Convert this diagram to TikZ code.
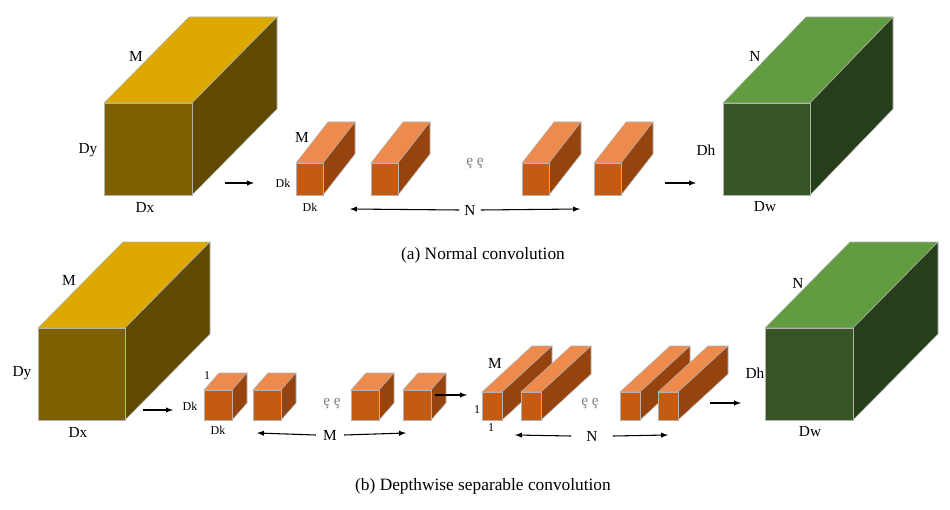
\documentclass[tikz,border=0pt]{standalone}
\usepackage{fontspec}
\setmainfont{Liberation Serif}
\begin{document}
\begin{tikzpicture}[x=0.75pt,y=-0.75pt,
 lbl/.style={inner sep=0pt,font=\fontsize{11.5}{13}\selectfont},
 sml/.style={inner sep=0pt,font=\fontsize{9}{10}\selectfont},
 captxt/.style={inner sep=0pt,font=\fontsize{13}{15}\selectfont},
 arr/.style={-latex,thick},
 edge/.style={draw=gray!60,line width=0.4pt}]
\useasboundingbox (0,0) rectangle (950,510);
\definecolor{ytop}{HTML}{DDA800}\definecolor{yfr}{HTML}{7F6000}\definecolor{ysd}{HTML}{5F4A00}
\definecolor{gtop}{HTML}{629C40}\definecolor{gfr}{HTML}{375425}\definecolor{gsd}{HTML}{263F1A}
\definecolor{otop}{HTML}{EE8B4C}\definecolor{ofr}{HTML}{C55A11}\definecolor{osd}{HTML}{97430E}
% #1 x1 #2 y1 #3 x2 #4 y2 #5 dx #6 dy #7 top #8 front #9 side
\newcommand\cub[9]{%
 \fill[#7,edge] (#1,#2) -- ++(#5,#6) -- ++(#3-#1,0) -- (#3,#2) -- cycle;
 \fill[#9,edge] (#3,#2) -- ++(#5,#6) -- ++(0,#4-#2) -- (#3,#4) -- cycle;
 \fill[#8,edge] (#1,#2) rectangle (#3,#4);}
% (a)
\cub{104}{103}{192}{195}{85}{-86}{ytop}{yfr}{ysd}
\cub{723}{103}{810}{195}{83}{-86}{gtop}{gfr}{gsd}
\foreach \x in {296,371,522,594}{\cub{\x}{163}{\x+27}{195}{32}{-41}{otop}{ofr}{osd}}
\node[lbl] (aM) at (136,56) {M};
\node[lbl] (aDy) at (88,150) {Dy};
\node[lbl] (aDx) at (145,207) {Dx};
\node[lbl] (aN) at (755,56) {N};
\node[lbl] (aDh) at (706,150) {Dh};
\node[lbl] (aDw) at (765,207) {Dw};
\node[lbl] (aM2) at (302,137) {M};
\node[sml] (aDk1) at (283,183) {Dk};
\node[sml] (aDk2) at (310,207) {Dk};
\node[lbl,text=gray] (adots) at (475,164) {\c{e} \c{e}};
\node[lbl] (aNN) at (470,210) {N};
\coordinate (aNl) at (350,209); \coordinate (aNr) at (580,209);
\draw[arr] (aNN.west) ++(-5,0) -- (aNl);
\draw[arr] (aNN.east) ++(5,0) -- (aNr);
\coordinate (a1s) at (225,183); \coordinate (a1e) at (254,183);
\coordinate (a2s) at (665,183); \coordinate (a2e) at (696,183);
\draw[arr] (a1s) -- (a1e); \draw[arr] (a2s) -- (a2e);
\node[captxt] (capa) at (483,255) {(a) Normal convolution};
% (b)
\cub{38}{328}{125}{420}{85}{-86}{ytop}{yfr}{ysd}
\cub{765}{328}{853}{420}{85}{-86}{gtop}{gfr}{gsd}
\foreach \x in {204,253,351,403}{\cub{\x}{390}{\x+28}{420}{15}{-17}{otop}{ofr}{osd}}
\foreach \x in {482,521,620,658}{\cub{\x}{392}{\x+20}{420}{50}{-46}{otop}{ofr}{osd}}
\node[lbl] (bM) at (69,280) {M};
\node[lbl] (bDy) at (22,373) {Dy};
\node[lbl] (bDx) at (78,432) {Dx};
\node[lbl] (bN) at (798,283) {N};
\node[lbl] (bDh) at (755,373) {Dh};
\node[lbl] (bDw) at (810,432) {Dw};
\node[sml] (b1) at (207,376) {1};
\node[sml] (bDk1) at (190,406) {Dk};
\node[sml] (bDk2) at (218,430) {Dk};
\node[lbl,text=gray] (bdots1) at (332,404) {\c{e} \c{e}};
\node[lbl] (bMM) at (330,435) {M};
\coordinate (bMl) at (257,433); \coordinate (bMr) at (406,433);
\draw[arr] (bMM.west) ++(-7,0) -- (bMl);
\draw[arr] (bMM.east) ++(7,0) -- (bMr);
\node[lbl] (bM2) at (495,363) {M};
\node[sml] (b1a) at (477,410) {1};
\node[sml] (b1b) at (491,428) {1};
\node[lbl,text=gray] (bdots2) at (590,404) {\c{e} \c{e}};
\node[lbl] (bNN) at (592,436) {N};
\coordinate (bNl) at (515,435); \coordinate (bNr) at (668,435);
\draw[arr] (bNN.west) ++(-15,0) -- (bNl);
\draw[arr] (bNN.east) ++(15,0) -- (bNr);
\coordinate (b1s) at (143,410); \coordinate (b1e) at (173,410);
\coordinate (b2s) at (435,395); \coordinate (b2e) at (467,395);
\coordinate (b3s) at (710,403); \coordinate (b3e) at (741,403);
\draw[arr] (b1s) -- (b1e); \draw[arr] (b2s) -- (b2e); \draw[arr] (b3s) -- (b3e);
\node[captxt] (capb) at (483,486) {(b) Depthwise separable convolution};
\end{tikzpicture}
\end{document}
